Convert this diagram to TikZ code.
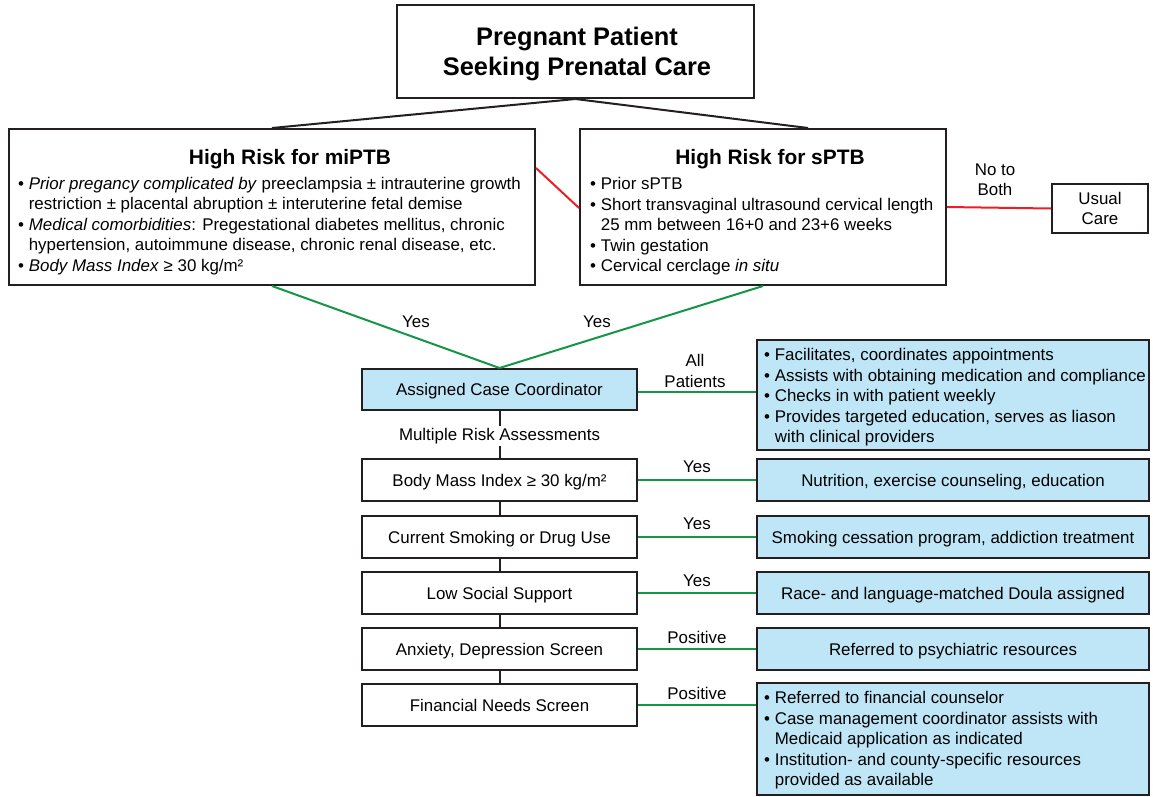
\documentclass[tikz,border=0pt]{standalone}
\usepackage{fontspec}
\setmainfont{Liberation Sans}
\usetikzlibrary{calc}
\definecolor{boxblue}{RGB}{190,230,247}
\definecolor{lgreen}{RGB}{20,150,70}
\definecolor{lred}{RGB}{235,30,40}
\definecolor{bordc}{RGB}{35,31,32}
\newcommand\fs{\fontsize{16.9}{20.5}\selectfont}
\newcommand\bu{\makebox[0.63em][l]{\textbullet}}
\newcommand\ind{\hspace*{0.63em}}
\begin{document}
\begin{tikzpicture}[x=1pt,y=-1pt,
  box/.style={draw=bordc, line width=2pt, inner sep=0pt, fill=white},
  bluebox/.style={box, fill=boxblue},
  one/.style={text height=12pt, text depth=0pt},
  rowbox/.style={box, one, minimum width=275pt, minimum height=42pt, font=\fs},
  rbox/.style={bluebox, one, minimum width=392pt, minimum height=42pt, font=\fs},
  txt/.style={font=\fs, inner sep=0pt, align=left},
  lab/.style={font=\fs, inner sep=1pt, align=center},
  ttl/.style={font=\fontsize{20.9}{25}\selectfont\bfseries, inner sep=0pt},
  gline/.style={draw=lgreen, line width=2pt},
  rline/.style={draw=lred, line width=2pt},
  kline/.style={draw=bordc, line width=2pt}]
\useasboundingbox (0,0) rectangle (1153,796);

% top
\node[box, minimum width=357pt, minimum height=93pt] (top) at (575.5,51.5) {};
\node[align=center, inner sep=0pt, font=\fontsize{25.4}{30.5}\selectfont\bfseries]
      (toptxt) at (577,54) {Pregnant Patient\\Seeking Prenatal Care};

% risk boxes
\node[box, minimum width=526pt, minimum height=156pt] (mi) at (272,207) {};
\node[ttl] (mititle) at (290,159) {High Risk for miPTB};
\node[txt, anchor=west] (mitxt) at (18,226)
  {\bu\textit{Prior pregancy complicated by} preeclampsia ± intrauterine growth\\
   \ind restriction ± placental abruption ± interuterine fetal demise\\
   \bu\textit{Medical comorbidities}: Pregestational diabetes mellitus, chronic\\
   \ind hypertension, autoimmune disease, chronic renal disease, etc.\\
   \bu\textit{Body Mass Index} ≥ 30 kg/m²};

\node[box, minimum width=366pt, minimum height=156pt] (s) at (763,207) {};
\node[ttl] (stitle) at (770,159) {High Risk for sPTB};
\node[txt, anchor=west] (stxt) at (590,226.5)
  {\bu Prior sPTB\\
   \bu Short transvaginal ultrasound cervical length\\
   \ind 25 mm between 16+0 and 23+6 weeks\\
   \bu Twin gestation\\
   \bu Cervical cerclage \textit{in situ}};

\node[box, minimum width=96pt, minimum height=49pt, font=\fs, align=center,
      text depth=0pt] (usual) at (1100,208.5) {Usual\\Care};

\draw[kline] (top.south) -- (mi.north);
\draw[kline] (top.south) -- ($(s.north)+(45,0)$);
\draw[rline] ($(mi.east)+(0,-39)$) -- ($(s.west)+(0,1)$);
\draw[rline] (s.east) -- (usual.west);
\node[lab] (noboth) at (995,180) {No to\\Both};

% case coordinator
\node[bluebox, one, minimum width=275pt, minimum height=41pt, font=\fs] (cc) at (499.5,389.5) {Assigned Case Coordinator};
\draw[gline] (mi.south) -- (cc.north);
\draw[gline] (s.south) -- (cc.north);
\node[lab] (yes1) at (416,322) {Yes};
\node[lab] (yes2) at (597,322) {Yes};

% left column
\node[rowbox] (bmi) at (499.5,480) {Body Mass Index ≥ 30 kg/m²};
\node[rowbox] (smk) at (499.5,537) {Current Smoking or Drug Use};
\node[rowbox] (soc) at (499.5,593) {Low Social Support};
\node[rowbox] (anx) at (499.5,649) {Anxiety, Depression Screen};
\node[rowbox] (fin) at (499.5,705) {Financial Needs Screen};

\draw[kline] (cc.south) -- (bmi.north);
\node[lab, fill=white, inner sep=2pt] (mra) at (499.5,436) {Multiple Risk Assessments};
\draw[kline] (bmi.south) -- (smk.north);
\draw[kline] (smk.south) -- (soc.north);
\draw[kline] (soc.south) -- (anx.north);
\draw[kline] (anx.south) -- (fin.north);

% right column
\node[bluebox, minimum width=392pt, minimum height=110pt] (rcc) at (953,395) {};
\node[txt, anchor=west] (rcctxt) at (764,397.5)
  {\bu Facilitates, coordinates appointments\\
   \bu Assists with obtaining medication and compliance\\
   \bu Checks in with patient weekly\\
   \bu Provides targeted education, serves as liason\\
   \ind with clinical providers};
\node[rbox] (rbmi) at (953,480) {Nutrition, exercise counseling, education};
\node[rbox] (rsmk) at (953,537) {Smoking cessation program, addiction treatment};
\node[rbox] (rsoc) at (953,593) {Race- and language-matched Doula assigned};
\node[rbox] (ranx) at (953,649) {Referred to psychiatric resources};
\node[bluebox, minimum width=392pt, minimum height=112pt] (rfin) at (953,739) {};
\node[txt, anchor=west] (rfintxt) at (764,740.5)
  {\bu Referred to financial counselor\\
   \bu Case management coordinator assists with\\
   \ind Medicaid application as indicated\\
   \bu Institution- and county-specific resources\\
   \ind provided as available};

% green horizontals
\coordinate (ccout) at ($(cc.east)+(0,2.5)$);
\draw[gline] (ccout) -- (ccout -| rcc.west);
\draw[gline] (bmi.east) -- (rbmi.west);
\draw[gline] (smk.east) -- (rsmk.west);
\draw[gline] (soc.east) -- (rsoc.west);
\draw[gline] (anx.east) -- (ranx.west);
\draw[gline] (fin.east) -- (fin.east -| rfin.west);

\node[lab] (allp) at (695,371) {All\\Patients};
\node[lab] (y3) at (697,467) {Yes};
\node[lab] (y4) at (697,524) {Yes};
\node[lab] (y5) at (697,581) {Yes};
\node[lab] (p1) at (697,637) {Positive};
\node[lab] (p2) at (697,693) {Positive};
\end{tikzpicture}
\end{document}
